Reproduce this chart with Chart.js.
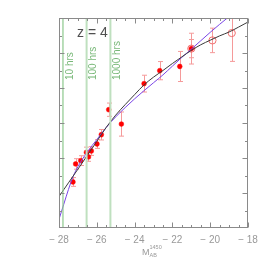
<!DOCTYPE html>
<html>
<head>
<meta charset="utf-8">
<script src="https://cdn.jsdelivr.net/npm/chart.js@4/dist/chart.umd.min.js"></script>
<style>
  html, body { margin: 0; padding: 0; background: #fff; }
</style>
</head>
<body>
<canvas id="chart" width="266" height="266"></canvas>
<script>
// measured quasars, filled symbols
const magBright = [-27.26, -27.12, -26.85, -26.55, -26.44, -26.29, -25.99, -25.76, -25.37, -24.70, -23.50, -22.67, -21.61, -21.00]
const valBright = [2.63, 3.66, 3.85, 4.32, 4.06, 4.40, 4.80, 5.33, 6.76, 5.94, 8.25, 8.99, 9.23, 10.25]
const errBright = [0.25, 0.30, 0.28, 0.30, 0.25, 0.25, 0.25, 0.30, 0.38, 0.69, 0.48, 0.52, 0.86, 0.52]

// open symbols
const magFaint = [-21.00, -19.88, -18.86]
const valFaint = [10.25, 10.72, 11.14]
const errFaint = [0.88, 0.70, 1.62]

// the two fits
const fitMag = [-28, -27.75, -27.5, -27.25, -27, -26.5, -26, -25.5, -25, -24.5, -24, -23.5, -23, -22.5, -22, -21.5, -21, -20.5, -20, -19.5, -19, -18.5, -18]
const blackFit = [1.8, 2.19, 2.58, 2.97, 3.36, 4.15, 4.95, 5.75, 6.45, 7.05, 7.62, 8.18, 8.62, 9.0, 9.4, 9.78, 10.15, 10.47, 10.73, 10.98, 11.2, 11.48, 11.77]
const purpleFit = [0.5, 1.35, 2.2, 2.95, 3.5, 4.35, 5.05, 5.75, 6.35, 6.88, 7.38, 7.85, 8.3, 8.75, 9.25, 9.75, 10.22, 10.7, 11.18, 11.64, 12.08, 12.55, 13.0]

// exposure time limits
const hrsMags = [-27.79, -26.54, -25.28]
const hrsLabels = ['10 hrs', '100 hrs', '1000 hrs']
const hrsColors = ['#8cc88c', '#bfe0bf', '#bfe0bf']

const xMajorTicks = [-28, -26, -24, -22, -20, -18]
const xMinorTicks = [-27.5, -27, -26.5, -25.5, -25, -24.5, -23.5, -23, -22.5, -21.5, -21, -20.5, -19.5, -19, -18.5]
const yMajorTicks = [2, 4, 6, 8, 10]
const yMinorTicks = [1, 3, 5, 7, 9, 11]

const pts = (xs, ys) => xs.map((x, i) => ({ x, y: ys[i] }))

const datasets = [
  {
    label: 'black fit',
    data: pts(fitMag, blackFit),
    borderColor: '#3a3a3a',
    borderWidth: 1,
    pointRadius: 0,
    cubicInterpolationMode: 'monotone'
  },
  {
    label: 'purple fit',
    data: pts(fitMag, purpleFit),
    borderColor: '#7a45e6',
    borderWidth: 1,
    pointRadius: 0,
    cubicInterpolationMode: 'monotone'
  },
  {
    label: 'bright',
    data: pts(magBright, valBright),
    showLine: false,
    pointRadius: 2.4,
    pointBackgroundColor: '#ff0000',
    pointBorderColor: '#ff0000',
    pointBorderWidth: 0.5
  },
  {
    label: 'faint',
    data: pts(magFaint, valFaint),
    showLine: false,
    pointRadius: 3.6,
    pointBackgroundColor: 'rgba(0,0,0,0)',
    pointBorderColor: '#f07070',
    pointBorderWidth: 1
  }
]

hrsMags.forEach((m, i) => {
  datasets.unshift({
    label: hrsLabels[i],
    data: [{ x: m, y: 0 }, { x: m, y: 12 }],
    borderColor: hrsColors[i],
    borderWidth: i == 0 ? 1.2 : 2,
    pointRadius: 0
  })
})

const errors = [
  { xs: magBright, ys: valBright, es: errBright },
  { xs: magFaint, ys: valFaint, es: errFaint }
]

const decor = {
  id: 'decor',
  beforeDatasetsDraw(chart) {
    const { ctx, chartArea: a, scales: { x, y } } = chart
    ctx.save()
    ctx.beginPath()
    ctx.rect(a.left, a.top, a.right - a.left, a.bottom - a.top)
    ctx.clip()
    ctx.strokeStyle = '#f59a9a'
    ctx.lineWidth = 1
    errors.forEach(s => {
      s.xs.forEach((m, i) => {
        const px = Math.round(x.getPixelForValue(m)) + 0.5
        const top = y.getPixelForValue(s.ys[i] + s.es[i])
        const bot = y.getPixelForValue(s.ys[i] - s.es[i])
        ctx.beginPath()
        ctx.moveTo(px, top); ctx.lineTo(px, bot)
        ctx.moveTo(px - 2.5, top); ctx.lineTo(px + 2.5, top)
        ctx.moveTo(px - 2.5, bot); ctx.lineTo(px + 2.5, bot)
        ctx.stroke()
      })
    })
    ctx.restore()
  },
  afterDraw(chart) {
    const { ctx, chartArea: a, scales: { x, y } } = chart
    ctx.save()
    ctx.strokeStyle = '#8a8a8a'
    ctx.lineWidth = 1
    const L = Math.round(a.left) + 0.5, R = Math.round(a.right) - 0.5
    const T = Math.round(a.top) + 0.5, B = Math.round(a.bottom) - 0.5
    ctx.strokeRect(L, T, R - L, B - T)
    ctx.beginPath()
    const xt = (v, len) => {
      const px = Math.round(x.getPixelForValue(v)) + 0.5
      ctx.moveTo(px, B); ctx.lineTo(px, B - len)
      ctx.moveTo(px, T); ctx.lineTo(px, T + len)
    }
    const yt = (v, len) => {
      const py = Math.round(y.getPixelForValue(v)) + 0.5
      ctx.moveTo(L, py); ctx.lineTo(L + len, py)
      ctx.moveTo(R, py); ctx.lineTo(R - len, py)
    }
    xMajorTicks.forEach(v => xt(v, 5))
    xMinorTicks.forEach(v => xt(v, 2.5))
    yMajorTicks.forEach(v => yt(v, 5))
    yMinorTicks.forEach(v => yt(v, 2.5))
    ctx.stroke()

    // exposure labels
    ctx.fillStyle = '#78b878'
    ctx.font = '10px "Liberation Sans", Arial, sans-serif'
    ctx.textAlign = 'left'
    ctx.textBaseline = 'top'
    hrsMags.forEach((m, i) => {
      ctx.save()
      ctx.translate(x.getPixelForValue(m) + 2, 80)
      ctx.rotate(-Math.PI / 2)
      ctx.fillText(hrsLabels[i], 0, 0)
      ctx.restore()
    })

    // redshift label
    ctx.fillStyle = '#505050'
    ctx.font = '14px "Liberation Sans", Arial, sans-serif'
    ctx.textBaseline = 'alphabetic'
    ctx.fillText('z = 4', 77, 37)

    // axis title M_AB^1450
    ctx.fillStyle = '#999'
    ctx.font = '9px "Liberation Sans", Arial, sans-serif'
    ctx.fillText('M', 142, 255)
    ctx.font = '5.5px "Liberation Sans", Arial, sans-serif'
    ctx.fillText('1450', 149.5, 248.5)
    ctx.fillText('AB', 149.5, 256.5)
    ctx.restore()
  }
}

new Chart(document.getElementById('chart'), {
  type: 'line',
  data: { datasets },
  plugins: [decor],
  options: {
    responsive: false,
    animation: false,
    events: [],
    layout: { padding: { left: 59, right: 18, top: 18, bottom: 0 } },
    plugins: { legend: { display: false }, tooltip: { enabled: false } },
    scales: {
      x: {
        type: 'linear',
        min: -28,
        max: -18,
        grid: { display: false, drawTicks: false },
        border: { display: false },
        afterBuildTicks: s => { s.ticks = xMajorTicks.map(v => ({ value: v })) },
        afterFit: s => { s.height = 38 },
        ticks: {
          padding: 6,
          color: '#999',
          font: { family: '"Liberation Sans", Arial, sans-serif', size: 10 },
          maxRotation: 0,
          callback: v => (v < 0 ? '\u2212 ' + Math.abs(v) : String(v))
        }
      },
      y: {
        type: 'linear',
        min: 0,
        max: 12,
        display: false
      }
    }
  }
})
</script>
</body>
</html>
